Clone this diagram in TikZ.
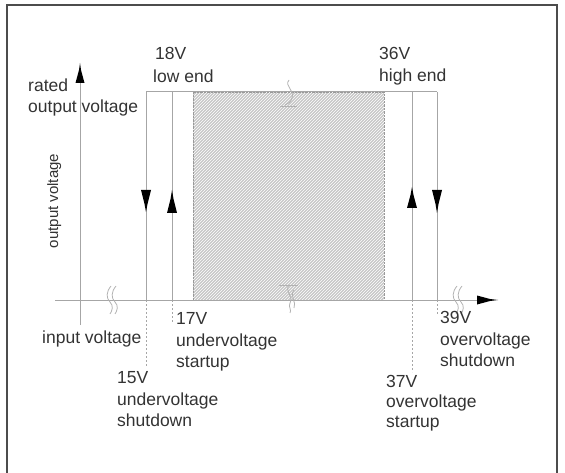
\documentclass[tikz,border=0pt]{standalone}
\usepackage{fontspec}
\setmainfont{Liberation Sans}
\usetikzlibrary{patterns}
\begin{document}
\begin{tikzpicture}[x=1pt,y=-1pt,
  lbl/.style={anchor=base west,inner sep=0pt,font=\fontsize{17.5}{20}\selectfont,text=black!80},
  gline/.style={draw=black!35,line width=1pt},
  dline/.style={draw=black!35,line width=0.8pt,dash pattern=on 2pt off 2pt},
  brk/.style={draw=black!30,line width=0.8pt},
  tipfill/.style={fill=black}]
\useasboundingbox (0,0) rectangle (565,473);
% frame
\draw[black!70,line width=1.5pt] (7,473) -- (7,5) -- (557,5) -- (557,473);
% coordinates
\coordinate (yb) at (80,325);
\coordinate (yt) at (80,83);
\coordinate (xl) at (55,300);
\coordinate (xr) at (478,300);
\coordinate (tl) at (146,92);
\coordinate (tr) at (437,92);
\coordinate (a15) at (146,300); \coordinate (d15) at (146,367);
\coordinate (a17) at (172,300); \coordinate (d17) at (172,322);
\coordinate (a37) at (412,300); \coordinate (d37) at (412,372);
\coordinate (a39) at (437,300); \coordinate (d39) at (437,315);
\coordinate (t15) at (146,92); \coordinate (t17) at (172,92);
\coordinate (t37) at (412,92); \coordinate (t39) at (437,92);
% hatched region
\fill[black!22] (193,92) rectangle (384,300);
\fill[pattern=north east lines, pattern color=white] (193,92) rectangle (384,300);
\draw[black!40, densely dotted] (193,92) rectangle (384,300);
% axes
\draw[gline] (yb) -- (yt);
\draw[gline] (xl) -- (xr);
\fill[tipfill] (75.5,83) -- (79,70) -- (80,63) -- (81,70) -- (84.5,83) -- cycle;
\fill[tipfill] (477,295.5) -- (490,299) -- (498,300) -- (490,301) -- (477,304.5) -- cycle;
% top line and verticals
\draw[gline] (tl) -- (tr);
\draw[gline] (t15) -- (a15);
\draw[gline] (t17) -- (a17);
\draw[gline] (t37) -- (a37);
\draw[gline] (t39) -- (a39);
\draw[dline] (a15) -- (d15);
\draw[dline] (a17) -- (d17);
\draw[dline] (a37) -- (d37);
\draw[dline] (a39) -- (d39);
% direction arrows
\fill[tipfill] (141,190) -- (151,190) -- (147.5,204) -- (146,212) -- (144.5,204) -- cycle;
\fill[tipfill] (167,213) -- (177,213) -- (173.5,199) -- (172,190) -- (170.5,199) -- cycle;
\fill[tipfill] (407,208) -- (417,208) -- (413.5,195) -- (412,187) -- (410.5,195) -- cycle;
\fill[tipfill] (432,190) -- (442,190) -- (438.5,204) -- (437,213) -- (435.5,204) -- cycle;
% break marks
\draw[brk] (289,80) .. controls (284,86) and (295,90) .. (292,98) .. controls (291,102) and (288,104) .. (285,105);
\draw[brk] (280,106) -- (297,106);
\draw[brk] (279,285) -- (298,285);
\draw[brk] (289,285) .. controls (284,291) and (294,296) .. (290,303) .. controls (288,307) and (292,310) .. (290,313);
\draw[brk] (294,290) .. controls (289,296) and (297,302) .. (294,308);
\foreach \bx in {111, 116, 457, 462}{
  \draw[brk] (\bx,286) .. controls (\bx-5,292) and (\bx-5,298) .. (\bx-1,302) .. controls (\bx+3,306) and (\bx+1,311) .. (\bx-1,314);
}
% labels
\node[lbl] (n18) at (155,60) {18V};
\node[lbl] (n18b) at (153,83) {low end};
\node[lbl] (n36) at (379,60) {36V};
\node[lbl] (n36b) at (379,82) {high end};
\node[lbl] (rated) at (28,92) {rated};
\node[lbl] (rated2) at (28,113) {output voltage};
\node[anchor=base,rotate=90,inner sep=0pt,font=\fontsize{15}{18}\selectfont,text=black!80] (ov) at (58,201) {output voltage};
\node[lbl] (iv) at (42,343) {input voltage};
\node[lbl] (n17) at (176,324) {17V};
\node[lbl] (n17b) at (176,346) {undervoltage};
\node[lbl] (n17c) at (176,367) {startup};
\node[lbl] (n15) at (117,383) {15V};
\node[lbl] (n15b) at (117,405) {undervoltage};
\node[lbl] (n15c) at (117,426) {shutdown};
\node[lbl] (n39) at (440,323) {39V};
\node[lbl] (n39b) at (440,345) {overvoltage};
\node[lbl] (n39c) at (440,366) {shutdown};
\node[lbl] (n37) at (386,387) {37V};
\node[lbl] (n37b) at (386,407) {overvoltage};
\node[lbl] (n37c) at (386,427) {startup};
\end{tikzpicture}
\end{document}
